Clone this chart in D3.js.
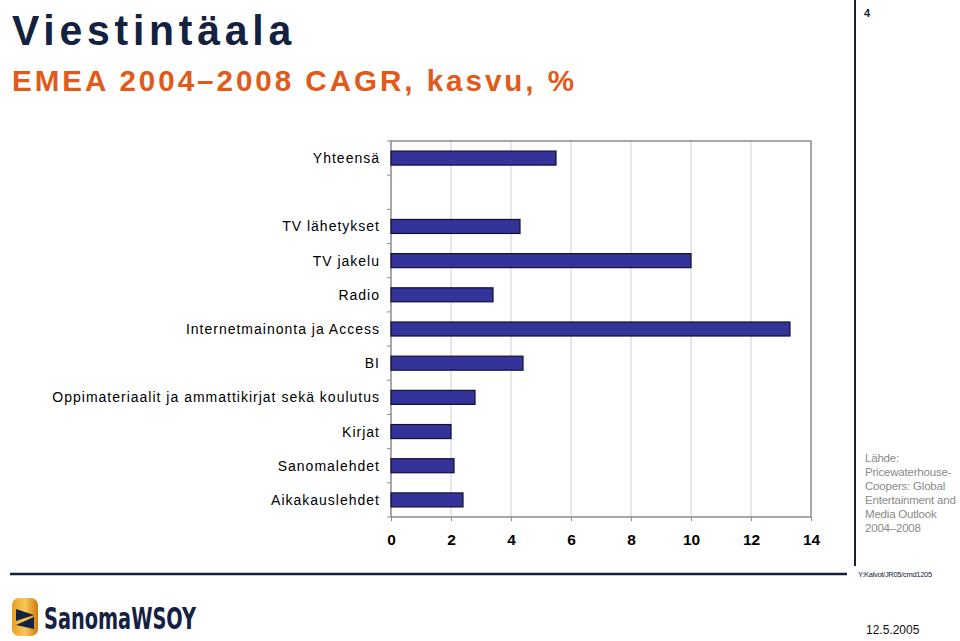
<!DOCTYPE html>
<html><head><meta charset="utf-8">
<script src="https://cdn.jsdelivr.net/npm/d3@7/dist/d3.min.js"></script>
<style>html,body{margin:0;padding:0;background:#fff;}svg{display:block;font-family:"Liberation Sans",Arial,sans-serif;}</style>
</head><body>
<script>
const categories = ["Yhteensä", "", "TV lähetykset", "TV jakelu", "Radio", "Internetmainonta ja Access", "BI",
  "Oppimateriaalit ja ammattikirjat sekä koulutus", "Kirjat", "Sanomalehdet", "Aikakauslehdet"];
const values = [5.5, null, 4.3, 10.0, 3.4, 13.3, 4.4, 2.8, 2.0, 2.1, 2.4];
const xTicks = [0, 2, 4, 6, 8, 10, 12, 14];
const sourceLines = ["Lähde:", "Pricewaterhouse-", "Coopers: Global", "Entertainment and", "Media Outlook", "2004–2008"];

const W = 960, H = 641;
const svg = d3.select("body").append("svg").attr("width", W).attr("height", H);
const navy = "#14213f", orange = "#e05a1a";

// Titles
svg.append("text").attr("x", 12).attr("y", 45).attr("font-size", 43).attr("font-weight", "bold")
  .attr("letter-spacing", 5).attr("fill", navy).attr("textLength", 284).attr("lengthAdjust", "spacingAndGlyphs").text("Viestintäala");
svg.append("text").attr("x", 12).attr("y", 91).attr("font-size", 30).attr("font-weight", "bold")
  .attr("letter-spacing", 3).attr("fill", orange).attr("textLength", 565).attr("lengthAdjust", "spacingAndGlyphs").text("EMEA 2004–2008 CAGR, kasvu, %");

// Frame lines
svg.append("line").attr("x1", 855).attr("x2", 855).attr("y1", 0).attr("y2", 566).attr("stroke", navy).attr("stroke-width", 2);
svg.append("line").attr("x1", 10).attr("x2", 847).attr("y1", 574).attr("y2", 574).attr("stroke", navy).attr("stroke-width", 2.5);
svg.append("text").attr("x", 864).attr("y", 17).attr("font-size", 11).attr("font-weight", "bold").attr("fill", navy).text("4");

// Chart
const m = {left: 391, right: 811, top: 141, bottom: 517};
const x = d3.scaleLinear().domain([0, 14]).range([m.left, m.right]);
const y = d3.scaleBand().domain(d3.range(categories.length)).range([m.top, m.bottom]).paddingInner(0.59).paddingOuter(0.295);
const step = (m.bottom - m.top) / categories.length;

// gridlines
svg.append("g").selectAll("line").data(xTicks.slice(1, -1)).join("line")
  .attr("x1", d => x(d)).attr("x2", d => x(d)).attr("y1", m.top).attr("y2", m.bottom)
  .attr("stroke", "#d0d0d0").attr("stroke-width", 1);
// plot frame
svg.append("rect").attr("x", m.left).attr("y", m.top).attr("width", m.right - m.left).attr("height", m.bottom - m.top)
  .attr("fill", "none").attr("stroke", "#8c8c8c").attr("stroke-width", 1.5);

// left ticks at category boundaries
svg.append("g").selectAll("line").data(d3.range(categories.length + 1)).join("line")
  .attr("x1", m.left - 4).attr("x2", m.left).attr("y1", d => m.top + d * step).attr("y2", d => m.top + d * step)
  .attr("stroke", "#8c8c8c");

// x axis
const xAxis = svg.append("g").attr("transform", `translate(0,${m.bottom})`)
  .call(d3.axisBottom(x).tickValues(xTicks).tickSize(4).tickPadding(13));
xAxis.select(".domain").remove();
xAxis.selectAll("line").attr("stroke", "#8c8c8c");
xAxis.selectAll("text").attr("font-size", 15.5).attr("font-weight", "bold").attr("fill", "#000")
  .attr("font-family", "'Liberation Sans', Arial, sans-serif");

// bars
svg.append("g").selectAll("rect").data(values.map((v, i) => ({v, i})).filter(d => d.v != null)).join("rect")
  .attr("x", x(0)).attr("y", d => y(d.i)).attr("width", d => x(d.v) - x(0)).attr("height", y.bandwidth())
  .attr("fill", "#333399").attr("stroke", "#111133").attr("stroke-width", 1.2);

// category labels
svg.append("g").selectAll("text").data(categories).join("text")
  .attr("x", 380).attr("y", (d, i) => y(i) + y.bandwidth() / 2 + 5)
  .attr("text-anchor", "end").attr("font-size", 14).attr("letter-spacing", 1).attr("fill", "#000")
  .text(d => d);

// source
svg.append("g").selectAll("text").data(sourceLines).join("text")
  .attr("x", 865).attr("y", (d, i) => 462 + i * 14).attr("font-size", 11.5).attr("letter-spacing", -0.2)
  .attr("fill", "#8a8a8a").text(d => d);
svg.append("text").attr("x", 858).attr("y", 577).attr("font-size", 7.5).attr("fill", navy).attr("letter-spacing", -0.3).text("Y:Kalvot/JR05/cmd1205");
svg.append("text").attr("x", 866).attr("y", 634).attr("font-size", 12).attr("fill", "#111").text("12.5.2005");

// logo
const logo = svg.append("g").attr("transform", "translate(10,598)");
const grad = svg.append("defs").append("linearGradient").attr("id", "gold").attr("x1", 0).attr("x2", 1);
grad.append("stop").attr("offset", 0).attr("stop-color", "#e8a020");
grad.append("stop").attr("offset", 0.5).attr("stop-color", "#f7c85a");
grad.append("stop").attr("offset", 1).attr("stop-color", "#d07a10");
logo.append("rect").attr("x", 2).attr("y", 0).attr("width", 26).attr("height", 38).attr("rx", 7).attr("fill", "url(#gold)");
logo.append("path").attr("d", "M6,11 L24,17 L6,23 Z M24,19 L6,27 L24,31 Z").attr("fill", navy);
logo.append("text").attr("x", 34).attr("y", 31).attr("font-size", 30).attr("font-weight", "bold").attr("fill", navy)
  .attr("font-family", "'DejaVu Sans Condensed','Liberation Sans Narrow',sans-serif").attr("textLength", 152)
  .attr("lengthAdjust", "spacingAndGlyphs").text("SanomaWSOY");
</script>
</body></html>
